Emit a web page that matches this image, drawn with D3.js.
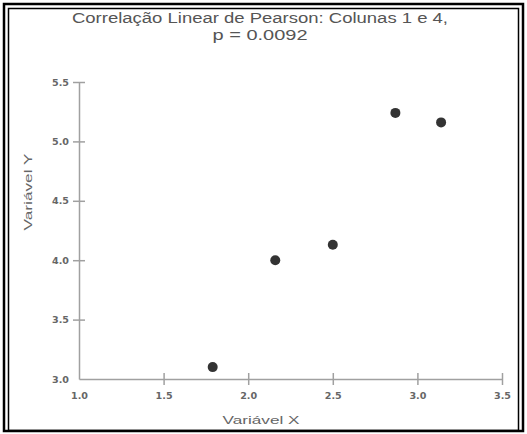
<!DOCTYPE html>
<html>
<head>
<meta charset="utf-8">
<script src="https://cdn.jsdelivr.net/npm/d3@7"></script>
<style>
  body { margin: 0; background: #fff; }
  svg { display: block; }
</style>
</head>
<body>
<div id="chart"></div>
<script>
// data
const xValues = [1.79, 2.16, 2.50, 2.87, 3.14]
const yValues = [3.10, 4.00, 4.13, 5.24, 5.16]
const xTicks = [1.0, 1.5, 2.0, 2.5, 3.0, 3.5]
const yTicks = [3.0, 3.5, 4.0, 4.5, 5.0, 5.5]
const titleLines = ["Correlação Linear de Pearson: Colunas 1 e 4,", "p = 0.0092"]
const xLabel = "Variável X"
const yLabel = "Variável Y"

var width = 527,
    height = 434

var svg = d3.select("#chart")
  .append("svg")
    .attr("width", width)
    .attr("height", height)
    .style("font-family", "'Liberation Sans', Arial, sans-serif")

svg.append("rect")
  .attr("width", width).attr("height", height)
  .attr("fill", "#fff")

// double frame
svg.append("rect")
  .attr("x", 4).attr("y", 4).attr("width", 519).attr("height", 427)
  .attr("fill", "none").attr("stroke", "#000").attr("stroke-width", 2.5)
svg.append("rect")
  .attr("x", 8.5).attr("y", 8.5).attr("width", 510).attr("height", 422)
  .attr("fill", "none").attr("stroke", "#000").attr("stroke-width", 1.5)

var x = d3.scaleLinear().domain([1, 3.5]).range([79, 502])
var y = d3.scaleLinear().domain([3, 5.5]).range([379, 82])

var xAxis = svg.append("g")
  .attr("transform", "translate(0," + y(3) + ")")
  .call(d3.axisBottom(x).tickValues(xTicks).tickFormat(d3.format(".1f"))
    .tickSize(6).tickSizeOuter(0).tickPadding(7))
var yAxis = svg.append("g")
  .attr("transform", "translate(" + x(1) + ",0)")
  .call(d3.axisLeft(y).tickValues(yTicks).tickFormat(d3.format(".1f"))
    .tickSize(6).tickSizeOuter(0).tickPadding(4))

// ticks cross the axis line
xAxis.selectAll(".tick line").attr("y1", -6)
yAxis.selectAll(".tick line").attr("x1", 6)
// no tick mark at the origin
xAxis.selectAll(".tick").filter(d => d == 1).select("line").remove()
yAxis.selectAll(".tick").filter(d => d == 3).select("line").remove()

svg.selectAll(".domain, .tick line")
  .attr("stroke", "#a0a0a0").attr("stroke-width", 1.5)
svg.selectAll(".tick text")
  .attr("fill", "#666")
  .attr("textLength", 17)
  .attr("lengthAdjust", "spacingAndGlyphs")
  .style("font-size", "9.5px")
  .style("font-weight", "bold")
  .style("font-family", "'DejaVu Sans', sans-serif")

// points
svg.selectAll("circle.pt")
  .data(xValues.map((v, i) => [v, yValues[i]]))
  .enter()
  .append("circle")
    .attr("class", "pt")
    .attr("cx", d => x(d[0]))
    .attr("cy", d => y(d[1]))
    .attr("r", 5)
    .attr("fill", "#333")

// title
svg.selectAll("text.title")
  .data(titleLines)
  .enter()
  .append("text")
    .attr("class", "title")
    .attr("x", 260)
    .attr("y", (d, i) => 23 + i * 17)
    .attr("text-anchor", "middle")
    .attr("fill", "#555")
    .attr("textLength", (d, i) => i == 0 ? 376 : 95)
    .attr("lengthAdjust", "spacingAndGlyphs")
    .style("font-size", "14px")
    .text(d => d)

svg.append("text")
  .attr("x", 261).attr("y", 424)
  .attr("text-anchor", "middle")
  .attr("fill", "#666")
  .attr("textLength", 77)
  .attr("lengthAdjust", "spacingAndGlyphs")
  .style("font-size", "11px")
  .text(xLabel)

svg.append("text")
  .attr("transform", "translate(32,192) rotate(-90)")
  .attr("text-anchor", "middle")
  .attr("fill", "#666")
  .attr("textLength", 77)
  .attr("lengthAdjust", "spacingAndGlyphs")
  .style("font-size", "11px")
  .text(yLabel)
</script>
</body>
</html>
